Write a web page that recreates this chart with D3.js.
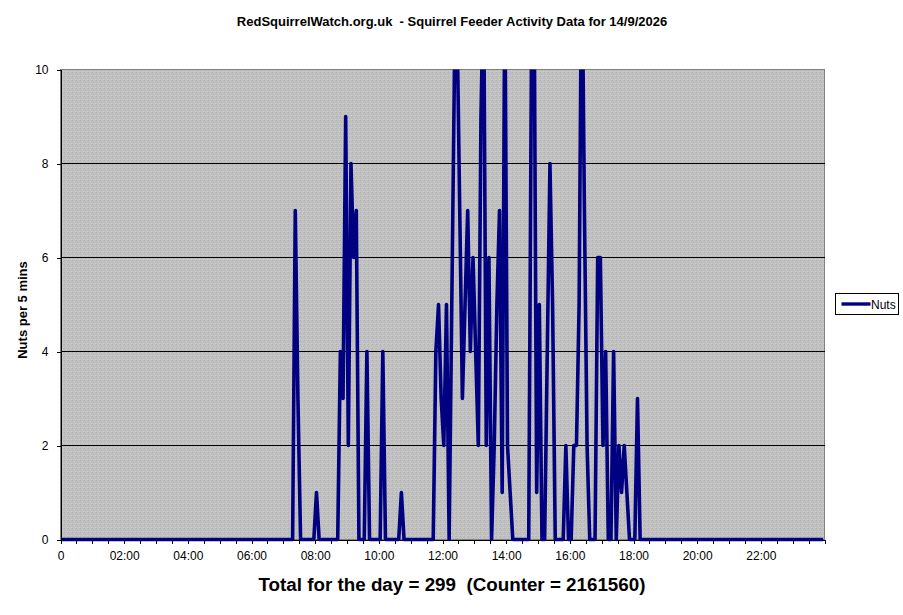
<!DOCTYPE html>
<html>
<head>
<meta charset="utf-8">
<script src="https://cdn.jsdelivr.net/npm/d3@7.9.0/dist/d3.min.js"></script>
<style>
  body { margin: 0; background: #fff; }
  svg { display: block; font-family: 'Liberation Sans', Arial, sans-serif; }
  svg text { white-space: pre; }
</style>
</head>
<body>
<div id="chart"></div>
<script>
const title = 'RedSquirrelWatch.org.uk  - Squirrel Feeder Activity Data for 14/9/2026';
const footer = 'Total for the day = 299  (Counter = 2161560)';
const yLabel = 'Nuts per 5 mins';
const seriesName = 'Nuts';

// nuts taken in each 5 minute slot, one row per hour
const nuts = [
  0,0,0,0,0,0,0,0,0,0,0,0,    // 00:00
  0,0,0,0,0,0,0,0,0,0,0,0,    // 01:00
  0,0,0,0,0,0,0,0,0,0,0,0,    // 02:00
  0,0,0,0,0,0,0,0,0,0,0,0,    // 03:00
  0,0,0,0,0,0,0,0,0,0,0,0,    // 04:00
  0,0,0,0,0,0,0,0,0,0,0,0,    // 05:00
  0,0,0,0,0,0,0,0,0,0,0,0,    // 06:00
  0,0,0,0,7,3,0,0,0,0,0,0,    // 07:00
  1,0,0,0,0,0,0,0,0,4,3,9,    // 08:00
  2,8,6,7,0,0,0,4,0,0,0,0,    // 09:00
  0,4,0,0,0,0,0,0,1,0,0,0,    // 10:00
  0,0,0,0,0,0,0,0,0,4,5,3,    // 11:00
  2,5,0,5,10,11,7,3,5,7,4,6,  // 12:00
  4,2,9,12,2,6,0,2,5,7,1,12,  // 13:00
  2,1,0,0,0,0,0,0,0,10,12,1,  // 14:00
  5,0,0,4,8,5,0,0,0,0,2,0,    // 15:00
  0,2,2,5,13,7,2,0,0,0,6,6,   // 16:00
  2,4,0,0,4,0,2,1,2,1,0,0,    // 17:00
  0,3,0,0,0,0,0,0,0,0,0,0,    // 18:00
  0,0,0,0,0,0,0,0,0,0,0,0,    // 19:00
  0,0,0,0,0,0,0,0,0,0,0,0,    // 20:00
  0,0,0,0,0,0,0,0,0,0,0,0,    // 21:00
  0,0,0,0,0,0,0,0,0,0,0,0,    // 22:00
  0,0,0,0,0,0,0,0,0,0,0,0     // 23:00
];

const xTickLabels = ['0', '02:00', '04:00', '06:00', '08:00', '10:00',
  '12:00', '14:00', '16:00', '18:00', '20:00', '22:00'];
const yTicks = [0, 2, 4, 6, 8, 10];

const width = 903;
const height = 615;
const plot = { left: 60.5, right: 824.5, top: 69.5, bottom: 539.5 };
const font = "'Liberation Sans', Arial, sans-serif";

const svg = d3.select('#chart')
  .append('svg')
  .attr('width', width)
  .attr('height', height);

// excel style grey dither for the plot area
const defs = svg.append('defs');
const pat = defs.append('pattern')
  .attr('id', 'dither')
  .attr('width', 4)
  .attr('height', 4)
  .attr('patternUnits', 'userSpaceOnUse');
pat.append('rect').attr('width', 4).attr('height', 4).attr('fill', '#c0c0c0');
[[0, 0, '#b2b2b2'], [2, 1, '#cbcbcb'], [1, 2, '#b6b6b6'], [3, 3, '#cccccc'], [3, 1, '#b8b8b8'], [1, 3, '#c8c8c8']]
  .forEach(([px, py, c]) => pat.append('rect')
    .attr('x', px).attr('y', py).attr('width', 1).attr('height', 1).attr('fill', c));

defs.append('clipPath')
  .attr('id', 'plot-clip')
  .append('rect')
  .attr('x', plot.left - 3)
  .attr('y', plot.top)
  .attr('width', plot.right - plot.left + 6)
  .attr('height', plot.bottom - plot.top + 6);

const xScale = d3.scaleLinear()
  .domain([0, nuts.length])
  .range([plot.left, plot.right]);

const yScale = d3.scaleLinear()
  .domain([0, 10])
  .range([plot.bottom, plot.top]);

svg.append('rect')
  .attr('x', plot.left)
  .attr('y', plot.top)
  .attr('width', plot.right - plot.left)
  .attr('height', plot.bottom - plot.top)
  .attr('fill', 'url(#dither)')
  .attr('stroke', '#808080')
  .attr('stroke-width', 1)
  .attr('shape-rendering', 'crispEdges');

// gridlines
svg.append('g')
  .selectAll('line')
  .data(yTicks.filter((d) => d > 0 && d < 10))
  .join('line')
  .attr('x1', plot.left)
  .attr('x2', plot.right)
  .attr('y1', (d) => yScale(d))
  .attr('y2', (d) => yScale(d))
  .attr('stroke', '#000')
  .attr('shape-rendering', 'crispEdges');

// y axis
const yAxis = svg.append('g')
  .attr('transform', `translate(${plot.left},0)`)
  .call(d3.axisLeft(yScale).tickValues(yTicks).tickSize(4).tickSizeOuter(0).tickPadding(8));
yAxis.selectAll('text').attr('font-size', 12).attr('font-family', font).attr('fill', '#000');
yAxis.selectAll('line, path').attr('shape-rendering', 'crispEdges');

// x axis, a tick every half hour, label every two hours
const xAxis = svg.append('g')
  .attr('transform', `translate(0,${plot.bottom})`)
  .call(d3.axisBottom(xScale)
    .tickValues(d3.range(0, nuts.length + 1, 6))
    .tickSize(4)
    .tickSizeOuter(0)
    .tickPadding(8)
    .tickFormat((d) => (d % 24 === 0 && d / 24 < xTickLabels.length ? xTickLabels[d / 24] : '')));
xAxis.selectAll('text').attr('font-size', 12).attr('font-family', font).attr('fill', '#000');
xAxis.selectAll('line, path').attr('shape-rendering', 'crispEdges');

// the series
const line = d3.line()
  .x((d, i) => xScale(i + 0.5))
  .y((d) => yScale(d));

svg.append('path')
  .datum(nuts)
  .attr('clip-path', 'url(#plot-clip)')
  .attr('d', line)
  .attr('fill', 'none')
  .attr('stroke', '#000080')
  .attr('stroke-width', 3.6)
  .attr('stroke-linejoin', 'round');

// legend
const legend = svg.append('g').attr('transform', 'translate(835.5,293.5)');
legend.append('rect')
  .attr('width', 63)
  .attr('height', 21)
  .attr('fill', '#fff')
  .attr('stroke', '#000')
  .attr('shape-rendering', 'crispEdges');
legend.append('line')
  .attr('x1', 6).attr('x2', 35)
  .attr('y1', 10.5).attr('y2', 10.5)
  .attr('stroke', '#000080')
  .attr('stroke-width', 3.4);
legend.append('text')
  .attr('x', 35.5)
  .attr('y', 15)
  .attr('font-size', 12)
  .text(seriesName);

// titles
svg.append('text')
  .attr('x', 452)
  .attr('y', 26)
  .attr('text-anchor', 'middle')
  .attr('font-size', 13)
  .attr('font-weight', 'bold')
  .text(title);

svg.append('text')
  .attr('x', 452)
  .attr('y', 591)
  .attr('text-anchor', 'middle')
  .attr('font-size', 18.8)
  .attr('font-weight', 'bold')
  .text(footer);

svg.append('text')
  .attr('transform', 'translate(27.3,310) rotate(-90)')
  .attr('text-anchor', 'middle')
  .attr('font-size', 13)
  .attr('font-weight', 'bold')
  .text(yLabel);
</script>
</body>
</html>
